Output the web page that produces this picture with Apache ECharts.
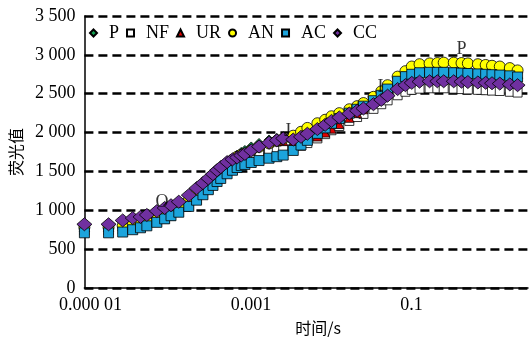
<!DOCTYPE html>
<html>
<head>
<meta charset="utf-8">
<script src="https://cdn.jsdelivr.net/npm/echarts@6/dist/echarts.min.js"></script>
<style>
	html, body { margin: 0; padding: 0; background: #fff; }
	#charts { width: 531px; height: 341px; }
</style>
</head>
<body>
<div id="charts"></div>
<script>
// 时间点 (s)
var times = [
	0.00001, 0.00002, 0.00003, 0.00004, 0.00005, 0.00006, 0.00008,
	0.0001, 0.00012, 0.00015, 0.0002, 0.00025, 0.0003, 0.00035, 0.0004, 0.00045, 0.0005, 0.0006, 0.0007, 0.0008, 0.0009,
	0.001, 0.0012, 0.0015, 0.002, 0.0025, 0.003, 0.004, 0.005, 0.006, 0.008,
	0.01, 0.012, 0.015, 0.02, 0.025, 0.03, 0.04, 0.05, 0.06, 0.08,
	0.1, 0.12, 0.15, 0.2, 0.25, 0.3, 0.4, 0.5, 0.6, 0.8,
	1.0, 1.2, 1.5, 2.0, 2.5
];

// 各处理荧光值
var valP = [
	730, 730, 745, 770, 790, 815, 860,
	905, 950, 1000, 1085, 1170, 1245, 1315, 1380, 1440, 1490, 1600, 1660, 1710, 1745,
	1770, 1815, 1860, 1905, 1925, 1940, 1880, 1900, 1940, 2000,
	2060, 2110, 2160, 2230, 2280, 2320, 2390, 2460, 2530, 2630,
	2690, 2720, 2740, 2745, 2745, 2745, 2740, 2735, 2730, 2725,
	2720, 2715, 2710, 2705, 2700
];
var valNF = [
	740, 740, 750, 770, 790, 810, 850,
	890, 930, 980, 1060, 1140, 1210, 1270, 1330, 1385, 1430, 1510, 1565, 1610, 1645,
	1670, 1710, 1740, 1765, 1775, 1780, 1790, 1830, 1865, 1925,
	1980, 2030, 2085, 2150, 2200, 2240, 2305, 2365, 2415, 2480,
	2525, 2550, 2565, 2570, 2570, 2570, 2565, 2560, 2555, 2550,
	2545, 2540, 2535, 2525, 2515
];
var valUR = [
	750, 750, 765, 790, 810, 835, 880,
	925, 965, 1020, 1105, 1190, 1265, 1335, 1395, 1450, 1495, 1575, 1630, 1675, 1710,
	1735, 1780, 1830, 1870, 1885, 1890, 1870, 1880, 1905, 1950,
	2000, 2050, 2110, 2190, 2250, 2300, 2390, 2480, 2570, 2690,
	2760, 2800, 2820, 2825, 2825, 2825, 2820, 2815, 2810, 2805,
	2800, 2795, 2790, 2780, 2760
];
var valAN = [
	780, 780, 800, 820, 840, 860, 905,
	950, 990, 1045, 1130, 1215, 1290, 1360, 1420, 1475, 1520, 1600, 1650, 1690, 1715,
	1730, 1770, 1815, 1860, 1895, 1920, 1960, 2010, 2060, 2120,
	2165, 2210, 2250, 2300, 2340, 2380, 2460, 2530, 2610, 2720,
	2790, 2850, 2880, 2890, 2895, 2900, 2900, 2895, 2890, 2880,
	2870, 2860, 2850, 2830, 2800
];
var valAC = [
	710, 710, 720, 750, 775, 800, 845,
	890, 930, 975, 1050, 1130, 1200, 1265, 1320, 1370, 1410, 1470, 1515, 1550, 1575,
	1590, 1615, 1640, 1670, 1690, 1710, 1770, 1840, 1900, 1990,
	2060, 2120, 2180, 2250, 2300, 2340, 2410, 2480, 2560, 2660,
	2720, 2750, 2770, 2775, 2775, 2775, 2770, 2765, 2760, 2755,
	2750, 2745, 2740, 2730, 2715
];
var valCC = [
	820, 820, 870, 900, 915, 940, 990,
	1030, 1065, 1110, 1195, 1285, 1350, 1410, 1465, 1515, 1555, 1620, 1655, 1680, 1705,
	1725, 1770, 1820, 1870, 1900, 1925, 1910, 1945, 1985, 2045,
	2100, 2150, 2195, 2245, 2280, 2310, 2365, 2420, 2475, 2560,
	2610, 2640, 2655, 2660, 2660, 2660, 2660, 2655, 2650, 2645,
	2640, 2635, 2630, 2620, 2610
];

// 特征点标注 O J I P
var annoText = ['O', 'J', 'I', 'P'];
var annoTime = [0.000093, 0.0034, 0.049, 0.5];
var annoValue = [1100, 2020, 2580, 3075];

// x 轴刻度标签
var xTickValues = [0.00001, 0.001, 0.1];
var xTickLabels = ['0.000 01', '0.001', '0.1'];

var serif = 'Liberation Serif, Times New Roman, serif';

function pairs(vals) {
	var out = [];
	for (var i = 0; i < times.length; i++) {
		out.push([times[i], vals[i]]);
	}
	return out;
}

// 系列样式
var seriesDefs = [
	{ name: 'P',  data: valP,  symbol: 'diamond',  size: 10,       color: '#10a050' },
	{ name: 'NF', data: valNF, symbol: 'rect',     size: 9,        color: '#ffffff' },
	{ name: 'UR', data: valUR, symbol: 'triangle', size: 9,        color: '#e00000' },
	{ name: 'AN', data: valAN, symbol: 'circle',   size: 11,       color: '#ffff00' },
	{ name: 'AC', data: valAC, symbol: 'rect',     size: 10,       color: '#1ca4dc' },
	{ name: 'CC', data: valCC, symbol: 'diamond',  size: [15, 13], color: '#7030a0' }
];

var annoData = [];
for (var k = 0; k < annoText.length; k++) {
	annoData.push({ name: annoText[k], value: [annoTime[k], annoValue[k]] });
}

var series = [{
	name: 'anno',
	type: 'scatter',
	symbolSize: 1,
	silent: true,
	itemStyle: { color: 'rgba(0,0,0,0)' },
	label: {
		show: true,
		position: 'inside',
		formatter: '{b}',
		fontFamily: serif,
		fontSize: 18,
		color: '#000'
	},
	data: annoData
}];

seriesDefs.forEach(function (d) {
	series.push({
		name: d.name,
		type: 'scatter',
		symbol: d.symbol,
		symbolSize: d.size,
		itemStyle: { color: d.color, borderColor: '#000', borderWidth: 0.8, opacity: 1 },
		data: pairs(d.data)
	});
});

var myChart = echarts.init(document.getElementById('charts'));
var option = {
	animation: false,
	backgroundColor: '#fff',
	grid: { left: 82, right: 3, top: 16, bottom: 53 },
	legend: {
		data: seriesDefs.map(function (d) { return d.name; }),
		left: 84,
		top: 19,
		itemWidth: 7,
		itemHeight: 7,
		itemGap: 7,
		textStyle: { fontFamily: serif, fontSize: 18, color: '#000', padding: [0, 0, 0, 7] }
	},
	xAxis: {
		type: 'log',
		logBase: 10,
		min: 0.00001,
		max: 3.37,
		name: '时间/s',
		nameLocation: 'middle',
		nameGap: 32,
		nameTextStyle: { fontFamily: 'Noto Sans CJK SC', fontSize: 16, color: '#000', padding: [0, 0, 0, 24] },
		axisLine: { lineStyle: { color: '#000', width: 1.5 } },
		axisTick: { show: false },
		splitLine: { show: false },
		axisLabel: {
			fontFamily: serif,
			fontSize: 18,
			color: '#000',
			margin: 8,
			padding: [0, 0, 0, 12],
			showMaxLabel: false,
			formatter: function (v) {
				for (var i = 0; i < xTickValues.length; i++) {
					if (Math.abs(Math.log10(v) - Math.log10(xTickValues[i])) < 0.01) {
						return xTickLabels[i];
					}
				}
				return '';
			}
		}
	},
	yAxis: {
		type: 'value',
		min: 0,
		max: 3500,
		interval: 500,
		name: '荧光值',
		nameLocation: 'middle',
		nameGap: 58,
		nameRotate: 90,
		nameTextStyle: { fontFamily: 'Noto Sans CJK SC', fontSize: 16, color: '#000' },
		axisLine: { show: true, lineStyle: { color: '#000', width: 1.5 } },
		axisTick: { show: false },
		axisLabel: {
			fontFamily: serif,
			fontSize: 18,
			color: '#000',
			margin: 9,
			formatter: function (v) {
				return String(v).replace(/\B(?=(\d{3})+(?!\d))/g, ' ');
			}
		},
		splitLine: {
			show: true,
			lineStyle: { color: '#000', width: 2.5, type: [9, 5] }
		}
	},
	series: series
};

myChart.setOption(option);
</script>
</body>
</html>
